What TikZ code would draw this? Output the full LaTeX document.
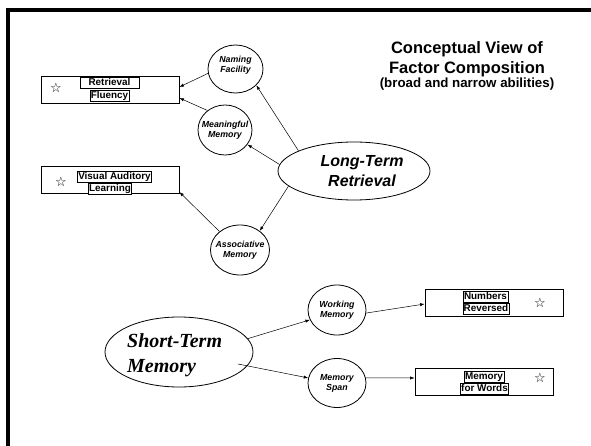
\documentclass[tikz,border=0pt]{standalone}
\usepackage{fontspec}
\setmainfont{Liberation Sans}
\newfontfamily\stmfont{Liberation Serif}
\newfontfamily\starfont{DejaVu Sans}
\usetikzlibrary{arrows.meta,shapes.geometric,calc}

\tikzset{
  testbox/.style={draw,line width=0.8pt,minimum width=138pt,minimum height=27pt,inner sep=0pt},
  testname/.style={draw,line width=0.5pt,fill=white,inner xsep=0.8pt,inner ysep=1pt,
    text height=7.2pt,text depth=2pt,font=\fontsize{9.9}{10}\selectfont\bfseries},
  starmark/.style={font=\starfont\fontsize{13}{13}\selectfont,inner sep=0pt},
  narrow/.style={ellipse,draw,line width=0.8pt,inner sep=0pt},
  narrowtext/.style={align=center,inner sep=0pt,font=\fontsize{8.8}{10}\selectfont\bfseries\itshape},
  broad/.style={ellipse,draw,line width=0.8pt,inner sep=0pt},
  link/.style={-{Latex[length=4.5pt,width=3.2pt]},line width=0.5pt},
}

\begin{document}
\begin{tikzpicture}[x=1pt,y=-1pt]
\useasboundingbox (0,0) rectangle (591,446);

% page frame (top and left edges)
\draw[line width=3.5pt] (591,10) -- (8,10) -- (8,446);

% title
\node[font=\fontsize{16.5}{20}\selectfont\bfseries,align=center,inner sep=0pt] (title) at (467,59)
  {Conceptual View of\\Factor Composition};
\node[font=\fontsize{13.3}{14}\selectfont\bfseries,inner sep=0pt] (subtitle) at (467,84)
  {(broad and narrow abilities)};

% test boxes
\node[testbox] (rf) at (110,90) {};
\node[testname,minimum width=59pt] (rfa) at (109.5,82.5) {Retrieval};
\node[testname] (rfb) at (109.5,96) {Fluency};
\node[starmark] (rfs) at (56,88) {☆};

\node[testbox] (val) at (110,179.5) {};
\node[testname] (vala) at (114.5,176.5) {Visual Auditory};
\node[testname] (valb) at (110,188.5) {Learning};
\node[starmark] (vals) at (61,182) {☆};

\node[testbox] (nr) at (494,302.5) {};
\node[testname] (nra) at (485.5,297) {Numbers};
\node[testname] (nrb) at (486,309) {Reversed};
\node[starmark] (nrs) at (540,303) {☆};

\node[testbox] (mw) at (484,381.5) {};
\node[testname] (mwa) at (484,376.5) {Memory};
\node[testname] (mwb) at (484.5,388.5) {for Words};
\node[starmark] (mws) at (540,378) {☆};

% narrow abilities
\node[narrow,minimum width=55pt,minimum height=48pt] (nf) at (235.5,69) {};
\node[narrowtext] (nft) at (235.5,65) {Naming\\Facility};
\node[narrow,minimum width=54pt,minimum height=50pt] (mm) at (225,130) {};
\node[narrowtext] (mmt) at (mm) {Meaningful\\Memory};
\node[narrow,minimum width=59pt,minimum height=50pt] (am) at (240,250) {};
\node[narrowtext] (amt) at (am) {Associative\\Memory};
\node[narrow,minimum width=58pt,minimum height=50pt] (wm) at (337,310) {};
\node[narrowtext] (wmt) at (wm) {Working\\Memory};
\node[narrow,minimum width=58pt,minimum height=49pt] (ms) at (337,383) {};
\node[narrowtext] (mst) at (ms) {Memory\\Span};

% broad abilities
\node[broad,minimum width=152pt,minimum height=58pt] (ltr) at (354,171) {};
\node[font=\fontsize{16}{20}\selectfont\bfseries\itshape,align=center,inner sep=0pt] (ltrt) at (362,171)
  {Long-Term\\Retrieval};
\node[broad,minimum width=148pt,minimum height=70pt] (stm) at (179,352) {};
\node[font=\stmfont\fontsize{20}{25}\selectfont\bfseries\itshape,align=left,anchor=west,inner sep=0pt] (stmt) at (127,355)
  {Short-Term\\Memory};

% connectors
\draw[link] (nf.189) -- ([yshift=3pt]rf.east);
\draw[link] (mm.132) -- ([yshift=-8pt]rf.east);
\draw[link] (ltr.160) -- (nf.-38);
\draw[link] (ltr.175) -- (mm.-33);
\draw[link] (ltr.193) -- (am.44);
\draw[link] (am.138) -- ([yshift=-12.5pt]val.east);
\draw[link] (stm.11) -- (wm.200);
\draw[link] ($(stm.center)+(59,12)$) -- (ms.170);
\draw[link] (wm.354) -- ([yshift=-1.5pt]nr.west);
\draw[link] (ms.10) -- ([yshift=3.5pt]mw.west);
\end{tikzpicture}
\end{document}
